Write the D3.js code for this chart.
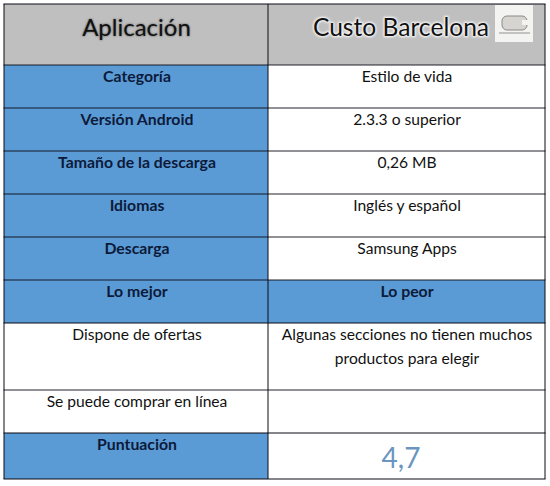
<!DOCTYPE html>
<html>
<head>
<meta charset="utf-8">
<script src="https://cdn.jsdelivr.net/npm/d3@7"></script>
<style>
  html, body { margin: 0; padding: 0; background: #fff; }
  svg { display: block; }
  text { font-family: Lato, "Open Sans", sans-serif; }
</style>
</head>
<body>
<svg id="chart" width="550" height="486"></svg>
<script>
const headers = ["Aplicación", "Custo Barcelona"];
const leftCells = ["Categoría", "Versión Android", "Tamaño de la descarga", "Idiomas", "Descarga", "Lo mejor", "Dispone de ofertas", "Se puede comprar en línea", "Puntuación"];
const rightCells = ["Estilo de vida", "2.3.3 o superior", "0,26 MB", "Inglés y español", "Samsung Apps", "Lo peor", "Algunas secciones no tienen muchos|productos para elegir", "", "4,7"];
const blueRowsLeft = ["Categoría", "Versión Android", "Tamaño de la descarga", "Idiomas", "Descarga", "Lo mejor", "Puntuación"];
const blueRowsRight = ["Lo peor"];

// table layout
const rowEdges = [4, 65, 108, 151, 194, 237, 280, 323, 390, 433, 479];
const colEdges = [4, 268, 545];

const svg = d3.select("#chart");
const x = d3.scaleOrdinal().domain([0, 1]).range(colEdges.slice(0, 2));
const y = i => rowEdges[i];
const colW = c => colEdges[c + 1] - colEdges[c];

// header backgrounds
svg.selectAll("rect.head").data(headers).join("rect")
  .attr("class", "head")
  .attr("x", (d, i) => x(i)).attr("y", y(0))
  .attr("width", (d, i) => colW(i)).attr("height", y(1) - y(0))
  .attr("fill", "#bfbfbf");

// body cells
const cells = leftCells.map((d, i) => ({ t: d, c: 0, r: i + 1 }))
  .concat(rightCells.map((d, i) => ({ t: d, c: 1, r: i + 1 })));

const isBlue = d => (d.c === 0 ? blueRowsLeft : blueRowsRight).includes(d.t);
const isScore = d => d.t === "4,7";

svg.selectAll("rect.cell").data(cells).join("rect")
  .attr("class", "cell")
  .attr("x", d => x(d.c)).attr("y", d => y(d.r))
  .attr("width", d => colW(d.c)).attr("height", d => y(d.r + 1) - y(d.r))
  .attr("fill", d => isBlue(d) ? "#5b9bd5" : "#fff");

// logo in the corner of the header
const logo = svg.append("g");
logo.append("rect").attr("x", 495).attr("y", 5).attr("width", 38).attr("height", 37).attr("fill", "#f3f3f2");
logo.append("rect").attr("x", 502).attr("y", 16).attr("width", 25).attr("height", 14).attr("rx", 5)
  .attr("fill", "#d6d4d1").attr("stroke", "#8c8885").attr("stroke-width", 1);
logo.append("rect").attr("x", 522).attr("y", 20).attr("width", 8).attr("height", 5).attr("fill", "#f3f3f2");
logo.append("rect").attr("x", 499).attr("y", 32).attr("width", 31).attr("height", 2).attr("fill", "#c4c2c0");

// grid
const lines = svg.append("g").attr("stroke", "#0a0a14").attr("fill", "none");
rowEdges.forEach((e, i) => {
  lines.append("line").attr("x1", colEdges[0] - 0.5).attr("x2", colEdges[2] + 0.5)
    .attr("y1", e).attr("y2", e).attr("stroke-width", i === 0 || i === 7 || i === 9 || i === 10 ? 1.2 : 0.9);
});
colEdges.forEach(e => {
  lines.append("line").attr("x1", e).attr("x2", e)
    .attr("y1", rowEdges[0]).attr("y2", rowEdges[rowEdges.length - 1]).attr("stroke-width", 1);
});

// header text
const shadow = svg.append("defs").append("filter").attr("id", "glow")
  .attr("x", "-10%").attr("y", "-30%").attr("width", "120%").attr("height", "160%");
shadow.append("feGaussianBlur").attr("stdDeviation", 1.1);

[0, 1].forEach(i => {
  const cx = i === 0 ? 136.5 : 401;
  const size = i === 0 ? 24 : 24.6;
  svg.append("text").text(headers[i]).attr("x", cx).attr("y", 36)
    .attr("text-anchor", "middle").attr("font-size", size)
    .attr("fill", i === 0 ? "#555" : "#fff")
    .attr("stroke", i === 0 ? "none" : "#fff").attr("stroke-width", i === 0 ? 0 : 2)
    .attr("filter", "url(#glow)");
  svg.append("text").text(headers[i]).attr("x", cx).attr("y", 36)
    .attr("text-anchor", "middle").attr("font-size", size)
    .attr("fill", "#111");
});

// cell text
const txt = svg.append("g").attr("text-anchor", "middle");
cells.filter(d => d.t !== "").forEach(d => {
  const cx = d.c === 0 ? 137 : 407;
  const bold = isBlue(d);
  if (isScore(d)) {
    txt.append("text").text(d.t).attr("x", 401).attr("y", 468)
      .attr("font-size", 28).attr("fill", "#6a95bf");
    return;
  }
  d.t.split("|").forEach((line, k) => {
    txt.append("text").text(line).attr("x", cx).attr("y", y(d.r) + 17 + k * 24)
      .attr("font-size", bold ? 15.8 : 15.6)
      .attr("font-weight", bold ? 700 : 400)
      .attr("fill", bold ? "#0c1a3a" : "#111");
  });
});
</script>
</body>
</html>
